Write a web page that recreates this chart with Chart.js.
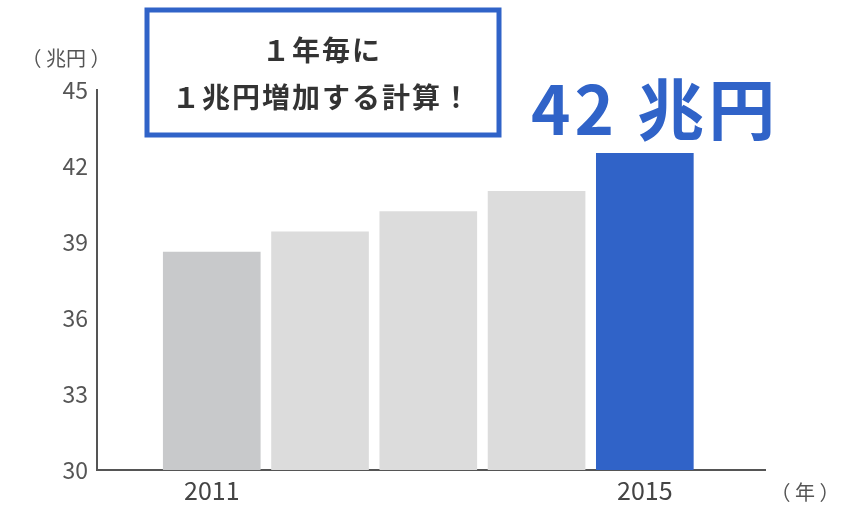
<!DOCTYPE html>
<html>
<head>
<meta charset="utf-8">
<script src="https://cdn.jsdelivr.net/npm/chart.js@4"></script>
<style>
  html, body { margin: 0; padding: 0; background: #fff; }
  #wrap { width: 846px; height: 508px; }
</style>
</head>
<body>
<div id="wrap"><canvas id="c" width="846" height="508"></canvas></div>
<script>
// data
const years = [2011, 2012, 2013, 2014, 2015];
const values = [38.6, 39.4, 40.2, 41.0, 42.5];
const barColors = ["#c8c9cb", "#dcdcdc", "#dcdcdc", "#dcdcdc", "#3063c8"];
const yTicks = [30, 33, 36, 39, 42, 45];
const xTickYears = [2011, 2015];

const FONT = '"Noto Sans CJK JP", "Noto Sans", sans-serif';

// extra text: units, note box, highlight label
const annotations = {
    id: "annotations",
    afterDraw(chart) {
        const ctx = chart.ctx;
        ctx.save();
        ctx.textBaseline = "middle";

        ctx.fillStyle = "#555";
        ctx.font = "20px " + FONT;
        ctx.textAlign = "center";
        ctx.fillText("（ 兆円 ）", 66, 58);
        ctx.fillText("（ 年 ）", 805, 492);

        // note box
        ctx.strokeStyle = "#3063c8";
        ctx.lineWidth = 5;
        ctx.strokeRect(147, 10, 352, 125);
        ctx.fillStyle = "#333";
        ctx.font = "bold 28px " + FONT;
        ctx.letterSpacing = "2px";
        ctx.fillText("１年毎に", 322, 50);
        ctx.fillText("１兆円増加する計算！", 322, 97);

        // highlight value
        ctx.fillStyle = "#3063c8";
        ctx.font = "bold 67px " + FONT;
        ctx.letterSpacing = "4px";
        ctx.textAlign = "left";
        ctx.fillText("42 兆円", 531, 110);
        ctx.restore();
    }
};

new Chart(document.getElementById("c"), {
    type: "bar",
    data: {
        datasets: [{
            data: years.map((y, i) => ({ x: y, y: values[i] })),
            backgroundColor: barColors,
            borderWidth: 0,
            barThickness: 97,
        }],
    },
    options: {
        responsive: false,
        animation: false,
        layout: { padding: { left: 0, right: 81, top: 90, bottom: 0 } },
        plugins: { legend: { display: false }, tooltip: { enabled: false } },
        scales: {
            x: {
                type: "linear",
                offset: false,
                min: 2009.94,
                max: 2016.11,
                afterBuildTicks: (s) => { s.ticks = xTickYears.map((v) => ({ value: v })); },
                afterFit: (s) => { s.height = 38; },
                grid: { display: false, drawTicks: false },
                border: { display: true, color: "#555", width: 2 },
                ticks: {
                    color: "#444",
                    font: { family: FONT, size: 25 },
                    padding: 5,
                    callback: (v) => String(v),
                },
            },
            y: {
                min: 30,
                max: 45,
                afterBuildTicks: (s) => { s.ticks = yTicks.map((v) => ({ value: v })); },
                afterFit: (s) => { s.width = 97; },
                grid: { display: false, drawTicks: false },
                border: { display: true, color: "#555", width: 2 },
                ticks: {
                    color: "#555",
                    font: { family: FONT, size: 23 },
                    padding: 9,
                },
            },
        },
    },
    plugins: [annotations],
});
</script>
</body>
</html>
